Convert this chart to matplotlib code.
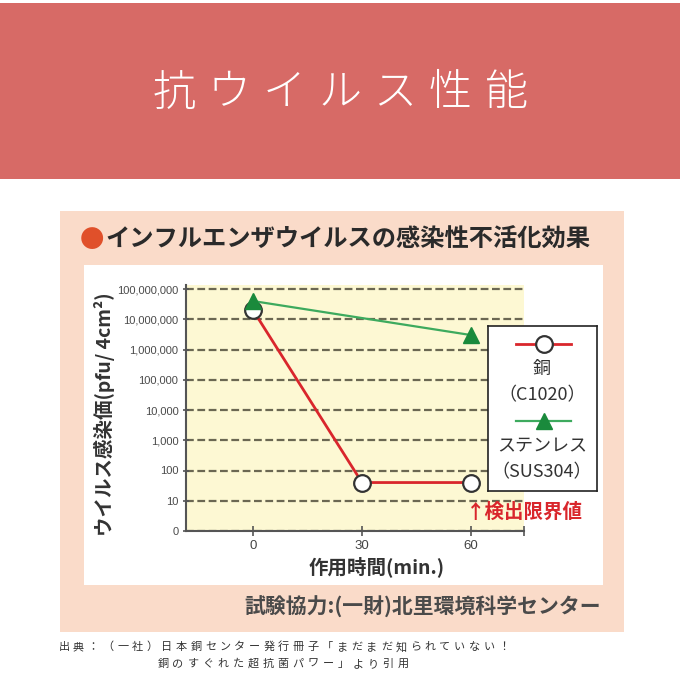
import matplotlib
matplotlib.use('Agg')
import matplotlib.pyplot as plt
from matplotlib.patches import Rectangle

plt.rcParams['font.family'] = ['Noto Sans CJK JP', 'DejaVu Sans']

# data
minutes = [0, 30, 60]
copper = [2e7, 40, 40]
stainless_minutes = [0, 60]
stainless = [4e7, 3e6]
y_ticks = [1, 10, 100, 1e3, 1e4, 1e5, 1e6, 1e7, 1e8]
y_labels = ['0', '10', '100', '1,000', '10,000', '100,000', '1,000,000', '10,000,000', '100,000,000']
x_ticks = [0, 30, 60]

banner_title = '抗ウイルス性能'
chart_title = 'インフルエンザウイルスの感染性不活化効果'
y_title = 'ウイルス感染価(pfu/ 4cm²)'
x_title = '作用時間(min.)'
limit_note = '↑検出限界値'
credit = '試験協力:(一財)北里環境科学センター'
source_1 = '出典：（一社）日本銅センター発行冊子「まだまだ知られていない！'
source_2 = '銅のすぐれた超抗菌パワー」より引用'
legend_rows = [('copper', '銅', '（C1020）'), ('stainless', 'ステンレス', '（SUS304）')]

banner_color = '#D76A66'
peach = '#FADBC9'
plot_yellow = '#FDF8D3'
grid_color = '#6B6752'
red = '#D9262C'
green_line = '#3DAA5E'
green_mark = '#1A8A3C'
axis_color = '#555555'

W = H = 680
fig = plt.figure(figsize=(6.8, 6.8), dpi=100)
fig.patch.set_facecolor('white')


def fx(px): return px / W
def fy(py): return 1 - py / H


def box(x0, y0, x1, y1, color):
    fig.add_artist(Rectangle((fx(x0), fy(y1)), fx(x1 - x0), (y1 - y0) / H, transform=fig.transFigure,
                             facecolor=color, edgecolor='none', zorder=0))


def spaced(text, x0, y, step, **kw):
    for i, ch in enumerate(text):
        fig.text(fx(x0 + i * step), fy(y), ch, ha='center', va='center', **kw)


# background blocks
box(0, 3, 680, 179, banner_color)
box(60, 211, 624, 632, peach)
box(84, 265, 603, 585, 'white')

spaced(banner_title, 174, 93, 55.2, color='white', fontsize=31, fontweight='light')

fig.text(fx(80), fy(240), '●', color='#E0502A', fontsize=17.5, ha='left', va='center')
fig.text(fx(105), fy(240), chart_title, color='#2A2A2A', fontsize=17.5, fontweight='bold', ha='left', va='center')

# main axes
ax = fig.add_axes([fx(186), fy(531), fx(524 - 186), (531 - 285) / H])
ax.set_facecolor(plot_yellow)
px_per_min = (471 - 253) / 60
x_lo, x_hi = -(253 - 186) / px_per_min, (524 - 253) / px_per_min
ax.set_xlim(x_lo, x_hi)
ax.set_yscale('log')
ax.set_ylim(1, 10 ** (8 + 4 / 30.25))
ax.set_yticks(y_ticks)
ax.set_yticklabels(y_labels)
ax.minorticks_off()
ax.set_xticks(x_ticks)
ax.set_xticklabels([str(t) for t in x_ticks])
ax.set_xticks([x_hi], minor=True)
for lab in ax.get_yticklabels():
    lab.set_family('Liberation Sans')
    lab.set_fontsize(8)
    lab.set_color('#4A4A4A')
for lab in ax.get_xticklabels():
    lab.set_family('Liberation Sans')
    lab.set_fontsize(9.5)
    lab.set_color('#444444')
ax.tick_params(axis='x', which='both', direction='inout', length=7, width=1.2, color=axis_color, pad=3)
ax.tick_params(axis='y', direction='inout', length=5, width=1.2, color=axis_color, pad=3)
ax.grid(axis='y', color=grid_color, lw=1.6, ls=(0, (3.5, 1.6)))
ax.set_axisbelow(True)
for side in ['top', 'right']:
    ax.spines[side].set_visible(False)
for side in ['left', 'bottom']:
    ax.spines[side].set_color(axis_color)
    ax.spines[side].set_linewidth(1.5)

ax.plot(minutes, copper, color=red, lw=2, marker='o', ms=12, mfc='white', mec='#333333', mew=1.6, zorder=3)
ax.plot(stainless_minutes, stainless, color=green_line, lw=1.6, marker='^', ms=11,
        mfc=green_mark, mec=green_mark, zorder=4)

fig.text(fx(104), fy(414), y_title, rotation=90, ha='center', va='center', fontsize=14,
         fontweight='bold', color='#333333')
fig.text(fx(377), fy(567), x_title, ha='center', va='center', fontsize=14, fontweight='bold', color='#333333')
fig.text(fx(466), fy(512), limit_note, ha='left', va='center', fontsize=14, fontweight='bold', color=red)

# legend box
lax = fig.add_axes([fx(488), fy(491), fx(597 - 488), (491 - 326) / H])
lax.set_xlim(488, 597)
lax.set_ylim(491, 326)
lax.set_xticks([])
lax.set_yticks([])
for s in lax.spines.values():
    s.set_color('#222222')
    s.set_linewidth(1.2)
styles = {
    'copper': dict(color=red, lw=2, marker='o', ms=12, mfc='white', mec='#333333', mew=1.6),
    'stainless': dict(color=green_line, lw=1.6, marker='^', ms=11, mfc=green_mark, mec=green_mark),
}
row_y = [344, 421]
for (key, name, code), y in zip(legend_rows, row_y):
    st = styles[key]
    lax.plot([516, 571], [y, y], color=st['color'], lw=st['lw'])
    lax.plot([543.5], [y], ls='none', **{k: v for k, v in st.items() if k not in ('color', 'lw')})
    lax.text(542, y + 25, name, ha='center', va='center', fontsize=13, color='#333333')
    lax.text(542, y + 51, code, ha='center', va='center', fontsize=13, color='#333333')

fig.text(fx(601), fy(607), credit, ha='right', va='center', fontsize=15, fontweight='bold', color='#4A4A4A')

spaced(source_1, 64, 647, 14.65, color='#333333', fontsize=8)
spaced(source_2, 163, 664, 15.0, color='#333333', fontsize=8)

fig.savefig('out.png', dpi=100, facecolor='white')
